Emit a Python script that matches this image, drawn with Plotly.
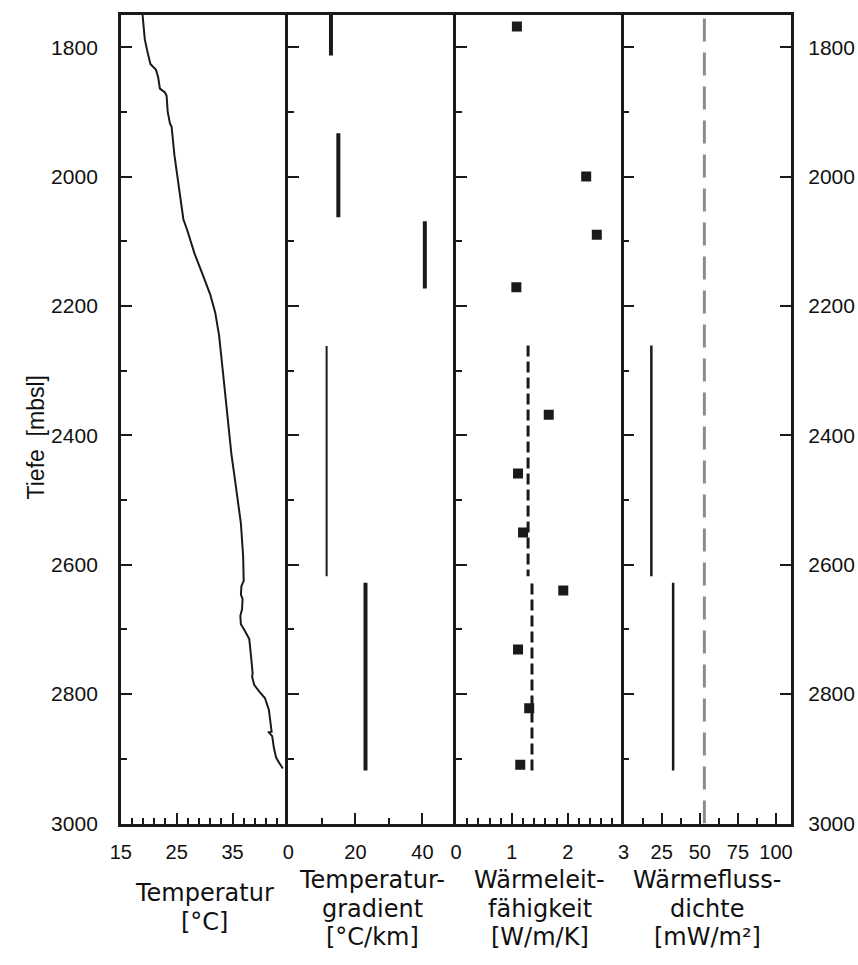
import plotly.graph_objects as go

# ---------------- data ----------------
temp_depth = [1750, 1788, 1808, 1826, 1835, 1847, 1864, 1870, 1875, 1900, 1918, 1923, 1967,
              2007, 2043, 2066, 2083, 2119, 2157, 2182, 2210, 2246, 2312, 2373, 2429, 2460,
              2485, 2536, 2587, 2625, 2633, 2646, 2653, 2669, 2679, 2692, 2702, 2715, 2740,
              2768, 2773, 2786, 2796, 2806, 2824, 2844, 2858, 2859, 2865, 2883, 2898, 2907, 2915]
temp_c = [18.9, 19.3, 19.8, 20.3, 21.3, 21.7, 22.0, 22.9, 23.2, 23.4, 23.8, 24.1, 24.6,
          25.2, 25.8, 26.2, 26.9, 28.2, 29.9, 31.0, 31.9, 32.6, 33.4, 34.1, 34.8, 35.3,
          35.7, 36.5, 36.9, 37.0, 36.6, 36.5, 36.8, 36.7, 36.4, 36.5, 37.2, 38.0, 38.3,
          38.6, 38.5, 38.9, 39.8, 40.8, 41.5, 41.8, 42.0, 41.5, 42.1, 42.4, 42.8, 43.4, 44.0]

grad_top = [1750, 1933, 2069, 2262, 2628]
grad_bot = [1813, 2063, 2173, 2618, 2918]
grad_val = [12.7, 14.9, 40.7, 11.4, 23.0]
grad_thick = [True, True, True, False, True]

cond_depth = [1768, 2000, 2090, 2171, 2368, 2459, 2550, 2640, 2731, 2822, 2909]
cond_val = [1.09, 2.33, 2.52, 1.08, 1.66, 1.11, 1.20, 1.92, 1.11, 1.31, 1.15]

cond_mean_top = [2261, 2629]
cond_mean_bot = [2618, 2919]
cond_mean_val = [1.29, 1.36]

hf_top = [2261, 2628]
hf_bot = [2618, 2918]
hf_val = [18.2, 32.5]
hf_ref = 53
depth_range = [3000, 1750]

title_lines = [["Temperatur", "[°C]"],
               ["Temperatur-", "gradient", "[°C/km]"],
               ["Wärmeleit-", "fähigkeit", "[W/m/K]"],
               ["Wärmefluss-", "dichte", "[mW/m²]"]]
depth_title = "Tiefe  [mbsl]"

# ---------------- layout geometry ----------------
W, H = 858, 965
edges = [112, 283, 454, 625, 796]
ydom = [1 - 833 / H, 1 - 15 / H]
INK = "#1a1a1a"


def segs(tops, bots, vals, mask=None):
    xs, ys = [], []
    for i, (t, b, v) in enumerate(zip(tops, bots, vals)):
        if mask is not None and not mask[i]:
            continue
        xs += [v, v, None]
        ys += [t, b, None]
    return xs, ys


fig = go.Figure()
fig.add_trace(go.Scatter(x=temp_c, y=temp_depth, mode="lines",
                         line=dict(color=INK, width=2), xaxis="x", yaxis="y"))

gx, gy = segs(grad_top, grad_bot, grad_val, grad_thick)
fig.add_trace(go.Scatter(x=gx, y=gy, mode="lines", line=dict(color=INK, width=4),
                         xaxis="x2", yaxis="y2"))
gx, gy = segs(grad_top, grad_bot, grad_val, [not t for t in grad_thick])
fig.add_trace(go.Scatter(x=gx, y=gy, mode="lines", line=dict(color=INK, width=2),
                         xaxis="x2", yaxis="y2"))

cx, cy = segs(cond_mean_top, cond_mean_bot, cond_mean_val)
fig.add_trace(go.Scatter(x=cx, y=cy, mode="lines",
                         line=dict(color=INK, width=3, dash="11px,5px"),
                         xaxis="x3", yaxis="y3"))
fig.add_trace(go.Scatter(x=cond_val, y=cond_depth, mode="markers",
                         marker=dict(symbol="square", size=10, color=INK),
                         xaxis="x3", yaxis="y3"))

fig.add_trace(go.Scatter(x=[hf_ref, hf_ref], y=[depth_range[0], depth_range[1]], mode="lines",
                         line=dict(color="#8c8c8c", width=3, dash="23px,11px"),
                         xaxis="x4", yaxis="y4"))
hx, hy = segs(hf_top, hf_bot, hf_val)
fig.add_trace(go.Scatter(x=hx, y=hy, mode="lines", line=dict(color=INK, width=2.5),
                         xaxis="x4", yaxis="y4"))

xtickfont = dict(family="Liberation Sans, Arial, sans-serif", size=20, color="#111")
ytickfont = dict(family="Liberation Sans, Arial, sans-serif", size=21, color="#111")

ycommon = dict(range=depth_range, domain=ydom, showline=True, linewidth=2.5, linecolor=INK,
               ticks="inside", ticklen=11, tickwidth=2, tickcolor=INK,
               tickmode="linear", tick0=0, dtick=200, showgrid=False, zeroline=False,
               minor=dict(ticks="inside", ticklen=6, tickwidth=2, tickcolor=INK,
                          tickmode="linear", tick0=0, dtick=100),
               tickfont=ytickfont)
xcommon = dict(showline=True, linewidth=2.5, linecolor=INK, mirror=True,
               ticks="inside", ticklen=11, tickwidth=2, tickcolor=INK,
               showgrid=False, zeroline=False, tickmode="array", tickfont=xtickfont,
               ticklabelstandoff=9)

xspecs = [
    dict(range=[15, 45], tickvals=[15, 25, 35], minor_dtick=2, minor_tick0=15),
    dict(range=[0, 50], tickvals=[0, 20, 40], minor_dtick=10, minor_tick0=0),
    dict(range=[0, 3], tickvals=[0, 1, 2, 3], minor_dtick=0.2, minor_tick0=0),
    dict(range=[0, 110], tickvals=[25, 50, 75, 100], minor_dtick=12.5, minor_tick0=0),
]

lay = {}
for i, spec in enumerate(xspecs):
    n = "" if i == 0 else str(i + 1)
    xa = dict(xcommon)
    xa.update(range=spec["range"], tickvals=spec["tickvals"],
              domain=[edges[i] / W, edges[i + 1] / W], anchor="y" + n,
              minor=dict(ticks="inside", ticklen=6, tickwidth=2, tickcolor=INK,
                         tickmode="linear", tick0=spec["minor_tick0"], dtick=spec["minor_dtick"]))
    lay["xaxis" + n] = xa
    ya = dict(ycommon)
    ya.update(anchor="x" + n, showticklabels=(i == 0), ticklabelstandoff=16,
              mirror=(i == len(xspecs) - 1))
    lay["yaxis" + n] = ya

lay["yaxis5"] = dict(range=depth_range, overlaying="y4", side="right", anchor="x4",
                     showline=False, ticks="inside", ticklen=11, tickwidth=2, tickcolor=INK,
                     tickmode="linear", tick0=0, dtick=200, showgrid=False, zeroline=False,
                     tickfont=ytickfont, ticklabelstandoff=16)
fig.add_trace(go.Scatter(x=[None], y=[None], xaxis="x4", yaxis="y5", showlegend=False))

title_font = dict(family="DejaVu Sans, sans-serif", size=24, color="#111")
line_y = {2: [903, 933], 3: [890, 919, 948]}
annotations = []
for i, lines in enumerate(title_lines):
    cxp = (edges[i] + edges[i + 1]) / 2
    for t, yp in zip(lines, line_y[len(lines)]):
        annotations.append(dict(text=t, x=cxp / W, y=1 - yp / H, xref="paper", yref="paper",
                                xanchor="center", yanchor="middle", showarrow=False,
                                borderpad=0, font=title_font))
annotations.append(dict(text=depth_title, x=25 / W, y=1 - 443 / H, xref="paper",
                        yref="paper", textangle=-90, showarrow=False,
                        xanchor="center", yanchor="middle",
                        font=dict(family="Liberation Sans, Arial", size=23, color="#111")))

fig.update_layout(width=W, height=H, margin=dict(l=0, r=0, t=0, b=0),
                  paper_bgcolor="white", plot_bgcolor="white", showlegend=False,
                  annotations=annotations, **lay)

fig.write_html("out.html")
